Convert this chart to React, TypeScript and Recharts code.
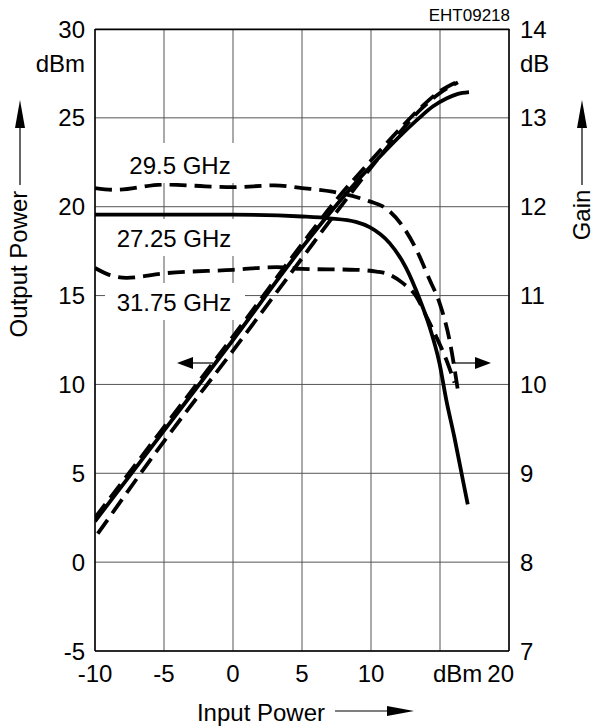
import React from 'react';
import { ComposedChart, Line, XAxis, YAxis, CartesianGrid } from 'recharts';

// ---- Tick values ----
const xTicks = [-10, -5, 0, 5, 10, 15, 20];
const leftTicks = [-5, 0, 5, 10, 15, 20, 25, 30];
const rightTicks = [7, 8, 9, 10, 11, 12, 13, 14];

// ---- Output power (left axis, dBm) ----
const outSolidX = [-10, -5, 0, 5, 7.5, 9, 10.5, 12, 13.5, 14.5, 15.5, 16.3, 17.1];
const outSolidY = [2.3, 7.4, 12.5, 17.7, 20.1, 21.45, 22.7, 23.9, 25.0, 25.65, 26.1, 26.35, 26.45];
const outDashAX = [-10, -5, 0, 5, 7.5, 10, 12, 13.5, 15, 16.3];
const outDashAY = [2.5, 7.6, 12.7, 17.9, 20.4, 22.6, 24.3, 25.5, 26.5, 27.05];
const outDashBX = [-9.8, -5, 0, 5, 7.5, 10, 12, 13.5, 15, 16.3];
const outDashBY = [1.6, 6.8, 11.9, 17.1, 19.7, 22.2, 24.1, 25.4, 26.4, 27.0];

// ---- Gain (right axis, dB) ----
const g295X = [-10, -8.5, -5, -2, 0, 3, 5, 7.2, 9.9, 11.0, 12.3, 13.28, 14.24, 14.96, 15.69, 16.29];
const g295Y = [12.21, 12.19, 12.25, 12.23, 12.22, 12.24, 12.21, 12.17, 12.06, 11.99, 11.78, 11.52, 11.18, 10.92, 10.5, 9.94];
const g2725X = [-10, -5, 0, 5, 7, 8.9, 9.9, 11.35, 12.55, 13.5, 14.24, 14.96, 15.45, 16.05, 16.65, 17.01];
const g2725Y = [11.91, 11.91, 11.91, 11.89, 11.87, 11.83, 11.77, 11.59, 11.31, 10.97, 10.65, 10.24, 9.83, 9.4, 8.93, 8.65];
const g3175X = [-10, -8.91, -7.71, -5, 0, 3.15, 5, 8.94, 10.4, 11.1, 12.31, 13.28, 14.0, 14.72, 15.45, 16.05];
const g3175Y = [11.31, 11.23, 11.2, 11.25, 11.29, 11.32, 11.3, 11.29, 11.27, 11.25, 11.14, 10.99, 10.77, 10.54, 10.28, 10.02];

const zip = (xs: number[], ys: number[]) => xs.map((x, i) => ({ x, y: ys[i] }));

const FONT = '"Liberation Sans", Arial, Helvetica, sans-serif';
const FS = 24;

const XTick = (props: any) => {
  const { x, y, payload } = props;
  const v = payload.value;
  let label = String(v);
  let anchor: any = 'middle';
  let tx = x;
  if (v === 15) { label = 'dBm'; anchor = 'start'; tx = x - 7; }
  if (v === 20) { anchor = 'end'; tx = x + 5; }
  return (
    <text x={tx} y={y + 22} textAnchor={anchor} dominantBaseline="central" fontSize={FS} fontFamily={FONT} fill="#000">{label}</text>
  );
};

const LeftTick = (props: any) => {
  const { x, y, payload } = props;
  return (
    <g>
      <text x={x - 10} y={y} textAnchor="end" dominantBaseline="central" fontSize={FS} fontFamily={FONT} fill="#000">{payload.value}</text>
      {payload.value === 30 && (
        <text x={x - 10} y={y + 34} textAnchor="end" dominantBaseline="central" fontSize={FS} fontFamily={FONT} fill="#000">dBm</text>
      )}
    </g>
  );
};

const RightTick = (props: any) => {
  const { x, y, payload } = props;
  return (
    <g>
      <text x={x + 11} y={y} textAnchor="start" dominantBaseline="central" fontSize={FS} fontFamily={FONT} fill="#000">{payload.value}</text>
      {payload.value === 14 && (
        <text x={x + 11} y={y + 34} textAnchor="start" dominantBaseline="central" fontSize={FS} fontFamily={FONT} fill="#000">dB</text>
      )}
    </g>
  );
};

const DASH = '17 8';
const SW = 3.8;

export default function App() {
  return (
    <div style={{ position: 'absolute', left: 0, top: 0, width: 593, height: 726, background: '#fff' }}>
      <ComposedChart width={593} height={726} margin={{ top: 29, right: 0, bottom: 0, left: 0 }}>
        <CartesianGrid yAxisId="left" stroke="#555" strokeWidth={1} />
        <XAxis
          type="number"
          dataKey="x"
          domain={[-10, 20]}
          ticks={xTicks}
          allowDataOverflow
          height={75}
          tickSize={0}
          tickMargin={0}
          tickLine={false}
          axisLine={{ stroke: '#000', strokeWidth: 1.5 }}
          tick={<XTick />}
          interval={0}
        />
        <YAxis
          yAxisId="left"
          orientation="left"
          type="number"
          domain={[-5, 30]}
          ticks={leftTicks}
          allowDataOverflow
          width={95}
          tickSize={0}
          tickMargin={0}
          tickLine={false}
          axisLine={{ stroke: '#000', strokeWidth: 1.5 }}
          tick={<LeftTick />}
          interval={0}
        />
        <YAxis
          yAxisId="right"
          orientation="right"
          type="number"
          domain={[7, 14]}
          ticks={rightTicks}
          allowDataOverflow
          width={84}
          tickSize={0}
          tickMargin={0}
          tickLine={false}
          axisLine={{ stroke: '#000', strokeWidth: 1.5 }}
          tick={<RightTick />}
          interval={0}
        />
        <Line yAxisId="left" data={zip(outSolidX, outSolidY)} dataKey="y" type="monotone" stroke="#000" strokeWidth={SW} dot={false} isAnimationActive={false} />
        <Line yAxisId="left" data={zip(outDashAX, outDashAY)} dataKey="y" type="monotone" stroke="#000" strokeWidth={SW} strokeDasharray={DASH} dot={false} isAnimationActive={false} />
        <Line yAxisId="left" data={zip(outDashBX, outDashBY)} dataKey="y" type="monotone" stroke="#000" strokeWidth={SW} strokeDasharray={DASH} dot={false} isAnimationActive={false} />
        <Line yAxisId="right" data={zip(g295X, g295Y)} dataKey="y" type="monotone" stroke="#000" strokeWidth={SW} strokeDasharray={DASH} dot={false} isAnimationActive={false} />
        <Line yAxisId="right" data={zip(g2725X, g2725Y)} dataKey="y" type="monotone" stroke="#000" strokeWidth={SW} dot={false} isAnimationActive={false} />
        <Line yAxisId="right" data={zip(g3175X, g3175Y)} dataKey="y" type="monotone" stroke="#000" strokeWidth={SW} strokeDasharray={DASH} dot={false} isAnimationActive={false} />
      </ComposedChart>
      <svg width={593} height={726} style={{ position: 'absolute', left: 0, top: 0, pointerEvents: 'none' }}>
        {/* top border */}
        <line x1={95} y1={29.5} x2={509.5} y2={29.5} stroke="#000" strokeWidth={1.5} />
        {/* series labels with white boxes */}
        <rect x={118} y={143} width={127} height={40} fill="#fff" />
        <text x={180} y={165} textAnchor="middle" dominantBaseline="central" fontSize={FS} fontFamily={FONT} fill="#000">29.5 GHz</text>
        <rect x={108} y={219} width={137} height={37} fill="#fff" />
        <text x={174} y={238} textAnchor="middle" dominantBaseline="central" fontSize={FS} fontFamily={FONT} fill="#000">27.25 GHz</text>
        <rect x={105} y={283} width={140} height={37} fill="#fff" />
        <text x={174} y={302} textAnchor="middle" dominantBaseline="central" fontSize={FS} fontFamily={FONT} fill="#000">31.75 GHz</text>
        {/* in-plot arrows */}
        <line x1={192} y1={363} x2={213} y2={363} stroke="#000" strokeWidth={1.2} />
        <polygon points="177,363 193,357 193,369" fill="#000" />
        <line x1={455} y1={363} x2={476} y2={363} stroke="#000" strokeWidth={1.2} />
        <polygon points="491,363 475,357 475,369" fill="#000" />
        {/* Output Power axis title */}
        <text x={18} y={264} transform="rotate(-90 18 264)" textAnchor="middle" dominantBaseline="central" fontSize={FS} fontFamily={FONT} fill="#000">Output Power</text>
        <line x1={20} y1={185} x2={20} y2={125} stroke="#000" strokeWidth={1.2} />
        <polygon points="20,100 15,128 25,128" fill="#000" />
        {/* Gain axis title */}
        <text x={581} y={215} transform="rotate(-90 581 215)" textAnchor="middle" dominantBaseline="central" fontSize={FS} fontFamily={FONT} fill="#000">Gain</text>
        <line x1={582} y1={185} x2={582} y2={125} stroke="#000" strokeWidth={1.2} />
        <polygon points="582,100 577,128 587,128" fill="#000" />
        {/* Input Power axis title */}
        <text x={261} y={712} textAnchor="middle" dominantBaseline="central" fontSize={FS} fontFamily={FONT} fill="#000">Input Power</text>
        <line x1={335} y1={711} x2={390} y2={711} stroke="#000" strokeWidth={1.2} />
        <polygon points="414,711 387,706 387,716" fill="#000" />
        {/* figure code */}
        <text x={510} y={21} textAnchor="end" fontSize={17} fontFamily={FONT} fill="#000">EHT09218</text>
      </svg>
    </div>
  );
}
